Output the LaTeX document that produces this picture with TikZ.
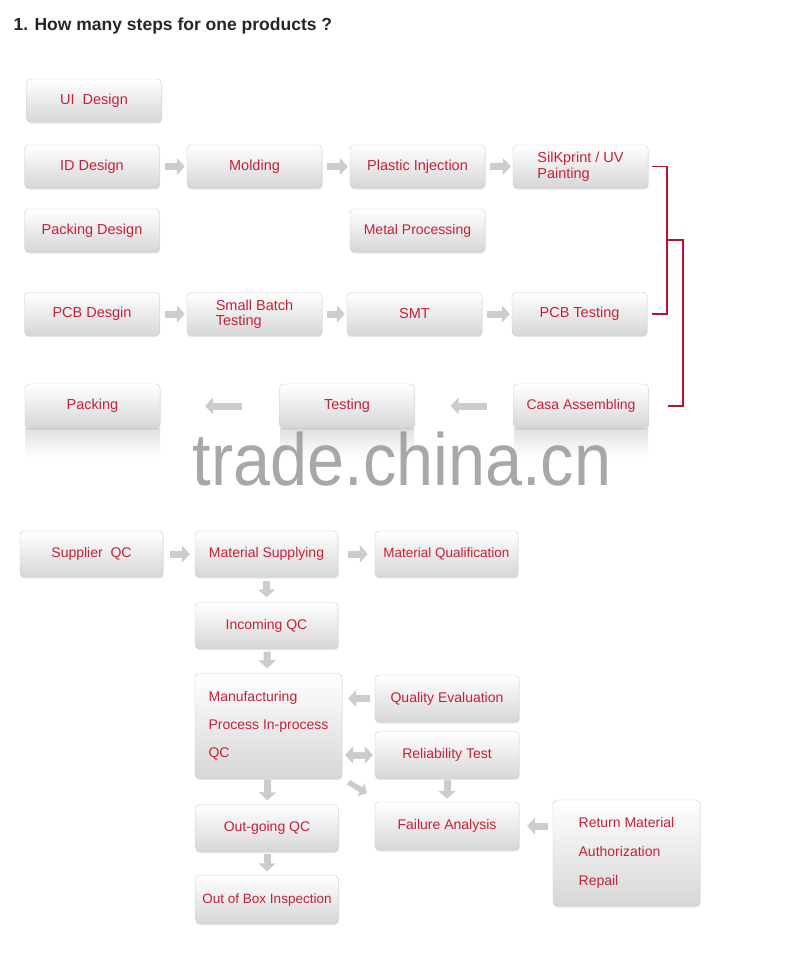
\documentclass[tikz,border=0pt]{standalone}
\usepackage{fontspec}
\setmainfont{Liberation Sans}
\usepackage{tikz}
\usetikzlibrary{arrows.meta,shadows,calc}
\definecolor{stepred}{RGB}{200,32,56}
\definecolor{brackred}{RGB}{186,18,40}
\tikzset{
  stepbox/.style={rounded corners=4pt,draw=gray!40,top color=white,bottom color=black!16,
    drop shadow={shadow xshift=0.5pt,shadow yshift=-1.5pt,opacity=0.2},
    minimum width=135pt,minimum height=43pt,inner sep=2pt,text=stepred,
    font=\fontsize{14.5}{15.5}\selectfont,align=left},
  qcbox/.style={stepbox,minimum width=143pt,minimum height=46pt,font=\fontsize{14}{15}\selectfont},
  mirror/.style={top color=black!12,bottom color=white,draw=none},
  garrow/.style={line width=7pt,gray!40,-{Triangle[length=8pt,width=17pt]}},
  gdarrow/.style={line width=7pt,gray!40,{Triangle[length=8pt,width=17pt]}-{Triangle[length=8pt,width=17pt]}},
  bracket/.style={brackred,line width=1.8pt},
}
\begin{document}
\begin{tikzpicture}[x=1pt,y=-1pt]
  \useasboundingbox[fill=white] (0,0) rectangle (800,959);
  \node[anchor=west,font=\bfseries\fontsize{17.5}{17.5}\selectfont,text=black!85] (title) at (10,26) {1. How many steps for one products ?};

  % product steps
  \node[stepbox] (ui) at (94,100.5) {UI\ \ Design};
  \node[stepbox] (idd) at (92,166.5) {ID Design};
  \node[stepbox] (mold) at (254.5,166.5) {Molding};
  \node[stepbox] (plast) at (417.5,166.5) {Plastic Injection};
  \node[stepbox] (silk) at (580.5,166.5) {SilKprint / UV\\Painting};
  \node[stepbox] (packd) at (92,230.5) {Packing Design};
  \node[stepbox,font=\fontsize{14}{15}\selectfont] (metal) at (417.5,230.5) {Metal Processing};
  \node[stepbox] (pcbd) at (92,314) {PCB Desgin};
  \node[stepbox] (small) at (254.5,314) {Small Batch\\Testing};
  \node[stepbox] (smt) at (414.5,314) {SMT};
  \node[stepbox] (pcbt) at (579.5,314) {PCB Testing};
  \fill[mirror] (25,428) rectangle (160,458);
  \fill[mirror] (280,428) rectangle (414,458);
  \fill[mirror] (514,428) rectangle (648,458);
  \node[stepbox,minimum height=44pt] (pack) at (92.5,406) {Packing};
  \node[stepbox,minimum height=44pt] (test) at (347,406) {Testing};
  \node[stepbox,minimum height=44pt,font=\fontsize{14}{15}\selectfont] (casa) at (581,406) {Casa Assembling};

  \draw[garrow,shorten <=5pt,shorten >=2pt] (idd) -- (mold);
  \draw[garrow,shorten <=5pt,shorten >=2pt] (mold) -- (plast);
  \draw[garrow,shorten <=5pt,shorten >=2pt] (plast) -- (silk);
  \draw[garrow,shorten <=5pt,shorten >=2pt] (pcbd) -- (small);
  \draw[garrow,shorten <=5pt,shorten >=2pt] (small) -- (smt);
  \draw[garrow,shorten <=5pt,shorten >=2pt] (smt) -- (pcbt);
  \draw[garrow,shorten <=26pt,shorten >=36pt] (casa) -- (test);
  \draw[garrow,shorten <=37pt,shorten >=45pt] (test) -- (pack);

  \draw[bracket] ([xshift=4pt]silk.east) -- ++(15,0) coordinate (brk) |- ([xshift=5pt]pcbt.east);
  \draw[bracket] (brk |- {$(silk.east)!0.5!(pcbt.east)$}) -- ++(16,0) |- ([xshift=19pt]casa.east);

  \node[font=\fontsize{74}{74}\selectfont,text=gray!80,opacity=0.85,xscale=0.9,anchor=base] (mark) at (402,485) {trade.china.cn};

  % quality control
  \node[qcbox] (sup) at (91.5,554) {Supplier\ \ QC};
  \node[qcbox] (msup) at (266.5,554) {Material Supplying};
  \node[qcbox,font=\fontsize{13.5}{15}\selectfont] (mqual) at (446.5,554) {Material Qualification};
  \node[qcbox] (inc) at (266.5,625.5) {Incoming QC};
  \node[qcbox,minimum width=147pt,minimum height=105pt,font=\fontsize{14}{28}\selectfont] (mfg) at (268.5,726) {Manufacturing\\Process In-process\\QC};
  \node[qcbox,minimum width=144pt,minimum height=47pt] (qeval) at (447,698.5) {Quality Evaluation};
  \node[qcbox,minimum width=144pt,minimum height=47pt] (rel) at (447,755) {Reliability Test};
  \node[qcbox,minimum width=144pt,minimum height=48pt] (fail) at (447,826) {Failure Analysis};
  \node[qcbox,minimum height=47pt] (outqc) at (267,828) {Out-going QC};
  \node[qcbox,minimum height=48pt,font=\fontsize{13.5}{15}\selectfont] (oob) at (267,899.5) {Out of Box Inspection};
  \node[qcbox,minimum width=147pt,minimum height=106pt,font=\fontsize{14}{29}\selectfont] (rma) at (626.5,853) {Return Material\\Authorization\\Repail};

  \draw[garrow,shorten <=7pt,shorten >=5pt] (sup) -- (msup);
  \draw[garrow,shorten <=10pt,shorten >=7pt] (msup) -- (mqual);
  \draw[garrow,shorten <=4pt,shorten >=5pt] (msup) -- (inc);
  \draw[garrow,shorten <=3pt,shorten >=5pt] (inc) -- (mfg);
  \draw[garrow,shorten <=5pt,shorten >=6pt] (qeval.west) -- (qeval.west -| mfg.east);
  \draw[gdarrow,shorten <=3pt,shorten >=2pt] (mfg.east |- rel.west) -- (rel.west);
  \draw[garrow,shorten <=1pt,shorten >=4pt] (mfg) -- (outqc);
  \draw[garrow,line width=5.5pt,-{Triangle[length=7pt,width=14pt]},shorten <=7pt,shorten >=9pt] (mfg.south east) -- ([yshift=4pt]fail.north west);
  \draw[garrow,shorten <=1pt,shorten >=3pt] (rel) -- (fail);
  \draw[garrow,shorten <=5pt,shorten >=8pt] (fail.east -| rma.west) -- (fail.east);
  \draw[garrow,shorten <=2pt,shorten >=4pt] (outqc) -- (oob);
\end{tikzpicture}
\end{document}
